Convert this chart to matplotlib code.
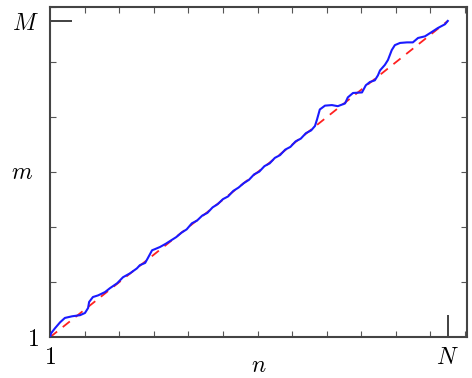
import numpy as np
import matplotlib
matplotlib.use("Agg")
import matplotlib.pyplot as plt
from matplotlib.ticker import MultipleLocator

plt.rcParams['mathtext.fontset'] = 'cm'
plt.rcParams['font.family'] = 'serif'
plt.rcParams['font.serif'] = ['DejaVu Serif']

# end points (n = N, m = M) in axis units
N_pos = 11.5
M_pos = 5.75

# measured path (blue)
path_n = [0.0, 0.03, 0.14, 0.29, 0.43, 0.64, 0.87, 1.01, 1.10, 1.13, 1.24, 1.39,
          1.59, 1.73, 1.94, 2.11, 2.31, 2.51, 2.60, 2.75, 2.83, 2.95, 3.03, 3.18,
          3.35, 3.50, 3.65, 3.80, 3.95, 4.10, 4.25, 4.40, 4.55, 4.70, 4.85, 5.00,
          5.15, 5.30, 5.45, 5.60, 5.75, 5.90, 6.05, 6.20, 6.35, 6.50, 6.65, 6.80,
          6.95, 7.10, 7.25, 7.40, 7.55, 7.66, 7.72, 7.80, 7.95, 8.15, 8.32, 8.53,
          8.61, 8.76, 9.02, 9.13, 9.25, 9.39, 9.48, 9.54, 9.68, 9.77, 9.88, 9.97,
          10.12, 10.32, 10.49, 10.64, 10.84, 11.04, 11.21, 11.42, 11.5]
path_m = [0.0, 0.07, 0.16, 0.27, 0.35, 0.38, 0.40, 0.44, 0.53, 0.64, 0.73, 0.76,
          0.82, 0.89, 0.98, 1.09, 1.16, 1.25, 1.31, 1.35, 1.44, 1.58, 1.60, 1.64,
          1.70, 1.76, 1.82, 1.90, 1.96, 2.07, 2.12, 2.21, 2.26, 2.36, 2.42, 2.51,
          2.56, 2.66, 2.72, 2.80, 2.86, 2.96, 3.01, 3.11, 3.16, 3.26, 3.31, 3.41,
          3.46, 3.56, 3.61, 3.71, 3.76, 3.84, 3.96, 4.14, 4.21, 4.22, 4.20, 4.25,
          4.36, 4.44, 4.45, 4.58, 4.64, 4.67, 4.76, 4.85, 4.95, 5.04, 5.22, 5.31,
          5.35, 5.36, 5.36, 5.44, 5.47, 5.55, 5.62, 5.69, 5.75]

fig = plt.figure(figsize=(4.72, 3.78), dpi=100)
ax = fig.add_axes([0.106, 0.108, 0.883, 0.873])

# diagonal (red dashed)
ax.plot([0, N_pos], [0, M_pos], color='#ff2020', lw=1.3, dashes=(5, 4), zorder=2)
ax.plot(path_n, path_m, color='#1a1aff', lw=1.5, zorder=3)

ax.set_xlim(0, 12.05)
ax.set_ylim(0, 6)

ax.set_xticks([0, N_pos])
ax.set_xticklabels(['$1$', '$N$'])
ax.set_yticks([0, M_pos])
ax.set_yticklabels(['$1$', '$M$'])
ax.xaxis.set_minor_locator(MultipleLocator(1))
ax.yaxis.set_minor_locator(MultipleLocator(1))

ax.tick_params(which='major', direction='in', length=16, width=1.3,
               color='#333333', labelsize=17, top=False, right=False)
ax.tick_params(which='minor', direction='in', length=4, width=0.8,
               color='#555555', top=True, right=True)
ax.tick_params(axis='x', which='major', pad=6)
ax.tick_params(axis='y', which='major', pad=8)

for s in ax.spines.values():
    s.set_color('#444444')
    s.set_linewidth(1.5)

ax.set_xlabel('$n$', fontsize=17, va='center')
ax.xaxis.set_label_coords(0.5, -0.085)
ax.set_ylabel('$m$', fontsize=17, rotation=0, va='center', ha='center')
ax.yaxis.set_label_coords(-0.067, 0.5)

fig.savefig('out.png', dpi=100)
